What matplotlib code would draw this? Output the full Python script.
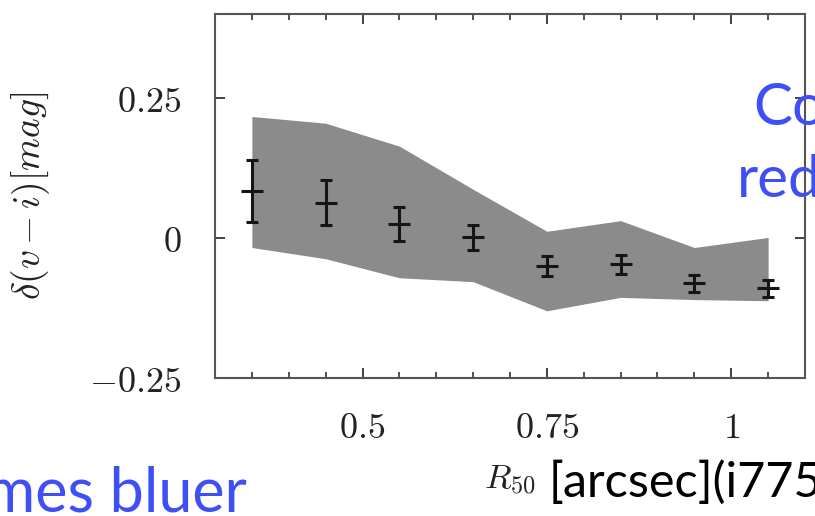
import matplotlib
matplotlib.use("Agg")
import matplotlib.pyplot as plt
import numpy as np

plt.rcParams['mathtext.fontset'] = 'cm'

# ---- data ----
r50 = [0.35, 0.45, 0.55, 0.65, 0.75, 0.85, 0.95, 1.05]
dcol = [0.084, 0.063, 0.025, 0.001, -0.050, -0.047, -0.081, -0.090]
dcol_err = [0.056, 0.040, 0.031, 0.023, 0.017, 0.017, 0.015, 0.015]
band_upper = [0.217, 0.205, 0.164, 0.087, 0.012, 0.031, -0.017, 0.001]
band_lower = [-0.017, -0.037, -0.071, -0.078, -0.130, -0.106, -0.110, -0.112]

xticks = [0.5, 0.75, 1.0]
xticklabels = ['$0.5$', '$0.75$', '$1$']
yticks = [-0.25, 0.0, 0.25]
yticklabels = ['$-0.25$', '$0$', '$0.25$']

W, H = 815, 516
fig = plt.figure(figsize=(W / 100, H / 100), dpi=100)
ax = fig.add_axes([215 / W, 1 - 378 / H, 590 / W, 364 / H])

ax.fill_between(r50, band_lower, band_upper, color='#8b8b8b', lw=0, zorder=1)
ax.errorbar(r50, dcol, yerr=dcol_err, fmt='_', ms=16, mew=2.2, color='#151515',
            ecolor='#151515', elinewidth=2.2, capsize=4.5, capthick=2.2, zorder=3)

ax.set_xlim(0.3, 1.1)
ax.set_ylim(-0.25, 0.4)
ax.set_xticks(xticks)
ax.set_xticklabels(xticklabels)
ax.set_xticks(np.arange(0.35, 1.1, 0.05), minor=True)
ax.set_yticks(yticks)
ax.set_yticklabels(yticklabels)

ax.tick_params(which='both', direction='in', top=True, right=True, color='#222222')
ax.tick_params(which='major', length=7, width=1.2, labelsize=26, colors='#222222')
ax.tick_params(which='minor', length=4, width=1.1)
ax.tick_params(axis='y', which='minor', left=False, right=False)
ax.tick_params(axis='x', which='major', pad=24)
ax.tick_params(axis='y', which='major', pad=24)
for s in ax.spines.values():
    s.set_color('#555555')
    s.set_linewidth(1.5)
    s.set_zorder(4)

blue = '#3F4FF6'
fig.text(31 / W, 1 - 196 / H, r'$\delta(v-i)[mag]$', rotation=90, ha='center',
         va='center', fontsize=27, color='#222222')
fig.text(484 / W, 1 - 489 / H, r'$R_{50}$', ha='left', va='baseline', fontsize=25,
         color='#222222')
fig.text(549 / W, 1 - 497 / H, '[arcsec](i775', ha='left', va='baseline',
         fontsize=35, family='Lato', color='black')
fig.text(247 / W, 1 - 512 / H, 'mes bluer', ha='right', va='baseline',
         fontsize=44, family='Lato', color=blue)
fig.text(753 / W, 1 - 125 / H, 'Co', ha='left', va='baseline',
         fontsize=42, family='Lato', color=blue, zorder=0)
fig.text(737 / W, 1 - 197 / H, 'red', ha='left', va='baseline',
         fontsize=42, family='Lato', color=blue, zorder=0)

fig.savefig('out.png', dpi=100)
